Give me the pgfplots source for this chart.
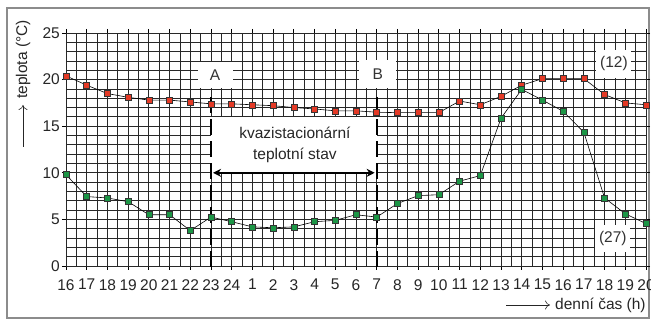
\documentclass[border=0pt]{standalone}
\usepackage{fontspec}
\setmainfont{Liberation Sans}
\usepackage{pgfplots}
\pgfplotsset{compat=1.18}
\usetikzlibrary{arrows.meta}
\definecolor{myred}{RGB}{228,58,38}
\definecolor{mygreen}{RGB}{28,150,70}
\definecolor{gridc}{RGB}{40,40,40}
\definecolor{framec}{RGB}{140,140,140}

\pgfplotstableread{
x red green
0 20.4 9.8
1 19.4 7.45
2 18.5 7.3
3 18.1 6.9
4 17.8 5.5
5 17.8 5.5
6 17.6 3.8
7 17.4 5.25
8 17.4 4.75
9 17.3 4.2
10 17.2 4.1
11 17.0 4.2
12 16.85 4.75
13 16.65 4.9
14 16.65 5.5
15 16.5 5.25
16 16.45 6.7
17 16.45 7.55
18 16.45 7.65
19 17.7 9.1
20 17.3 9.7
21 18.2 15.85
22 19.4 18.95
23 20.1 17.8
24 20.1 16.6
25 20.1 14.35
26 18.4 7.3
27 17.5 5.6
28 17.3 4.55
}\datatable

\begin{document}
\fontsize{15.5bp}{18bp}\selectfont
\begin{tikzpicture}[font=\fontsize{15.5bp}{18bp}\selectfont]
\useasboundingbox (-66bp,-54bp) rectangle (585bp,266bp);
\draw[framec, line width=1.3bp] (-59bp,-52bp) rectangle (583bp,258bp);
\begin{axis}[
  at={(0,0)}, anchor=south west,
  scale only axis, width=580bp, height=233bp,
  xmin=0, xmax=28, ymin=0, ymax=25,
  clip=false,
  xtick={0,...,28},
  xticklabels={16,17,18,19,20,21,22,23,24,1,2,3,4,5,6,7,8,9,10,11,12,13,14,15,16,17,18,19,20},
  ytick={0,5,...,25},
  minor x tick num=1,
  minor y tick num=4,
  grid=both,
  major grid style={gridc, line width=0.8bp},
  minor grid style={gridc, line width=0.8bp},
  axis line style={gridc, line width=0.8bp},
  tick align=outside,
  major tick length=4bp,
  minor tick length=0pt,
  tick style={black, line width=0.8bp},
  /pgf/number format/assume math mode=true,
  ticklabel style={font=\fontsize{15.5bp}{18bp}\selectfont, text=black!85},
  xticklabel style={inner sep=0bp, yshift=-9bp},
  yticklabel style={inner sep=1bp, xshift=-1bp},
]
\addplot[black, line width=0.6bp, mark=square*, mark size=3bp,
  mark options={fill=myred, draw=black!80, line width=0.5bp}] table[x=x, y=red] {\datatable};
\addplot[black, line width=0.6bp, mark=square*, mark size=3bp,
  mark options={fill=mygreen, draw=black!80, line width=0.5bp}] table[x=x, y=green] {\datatable};

% white annotation areas
\fill[white] (axis cs:7,10) rectangle (axis cs:15,16);
\node[fill=white, minimum width=35bp, minimum height=26bp, inner sep=0pt, text=black!80] at (axis cs:7.2,20.5) {A};
\node[fill=white, minimum width=37bp, minimum height=28bp, inner sep=0pt, text=black!80] at (axis cs:15.05,20.55) {B};
\node[fill=white, minimum width=35bp, minimum height=28bp, inner sep=0pt, text=black!80] at (axis cs:26.45,21.7) {(12)};
\node[fill=white, minimum width=35bp, minimum height=27bp, inner sep=0pt, text=black!80] at (axis cs:26.4,2.9) {(27)};
\node[align=center, text=black!85, font=\fontsize{15.5bp}{21bp}\selectfont] at (axis cs:11.05,13.0) {kvazistacionární\\teplotní stav};

% dashed boundaries
\draw[black, line width=2.2bp, dash pattern=on 16bp off 6bp] (axis cs:7,18.1) -- (axis cs:7,-0.65);
\draw[black, line width=2.2bp, dash pattern=on 16bp off 6bp] (axis cs:15,18.1) -- (axis cs:15,-0.65);
% double arrow
\draw[black, line width=1.8bp, {Stealth[length=8bp,width=8bp]}-{Stealth[length=8bp,width=8bp]}] (axis cs:7.1,10) -- (axis cs:14.9,10);
\end{axis}
% axis titles
\node[rotate=90, anchor=east, inner sep=0pt, text=black!85] at (-43bp,246bp) {teplota (°C)};
\draw[black!85, line width=0.6bp, -{To[length=5bp,width=9bp]}] (-43bp,119bp) -- (-43bp,161bp);
\draw[black!85, line width=0.6bp, -{To[length=5bp,width=9bp]}] (440bp,-39bp) -- (484bp,-39bp);
\node[anchor=west, inner sep=0pt, text=black!85] at (489bp,-39bp) {denní čas (h)};
\end{tikzpicture}
\end{document}
